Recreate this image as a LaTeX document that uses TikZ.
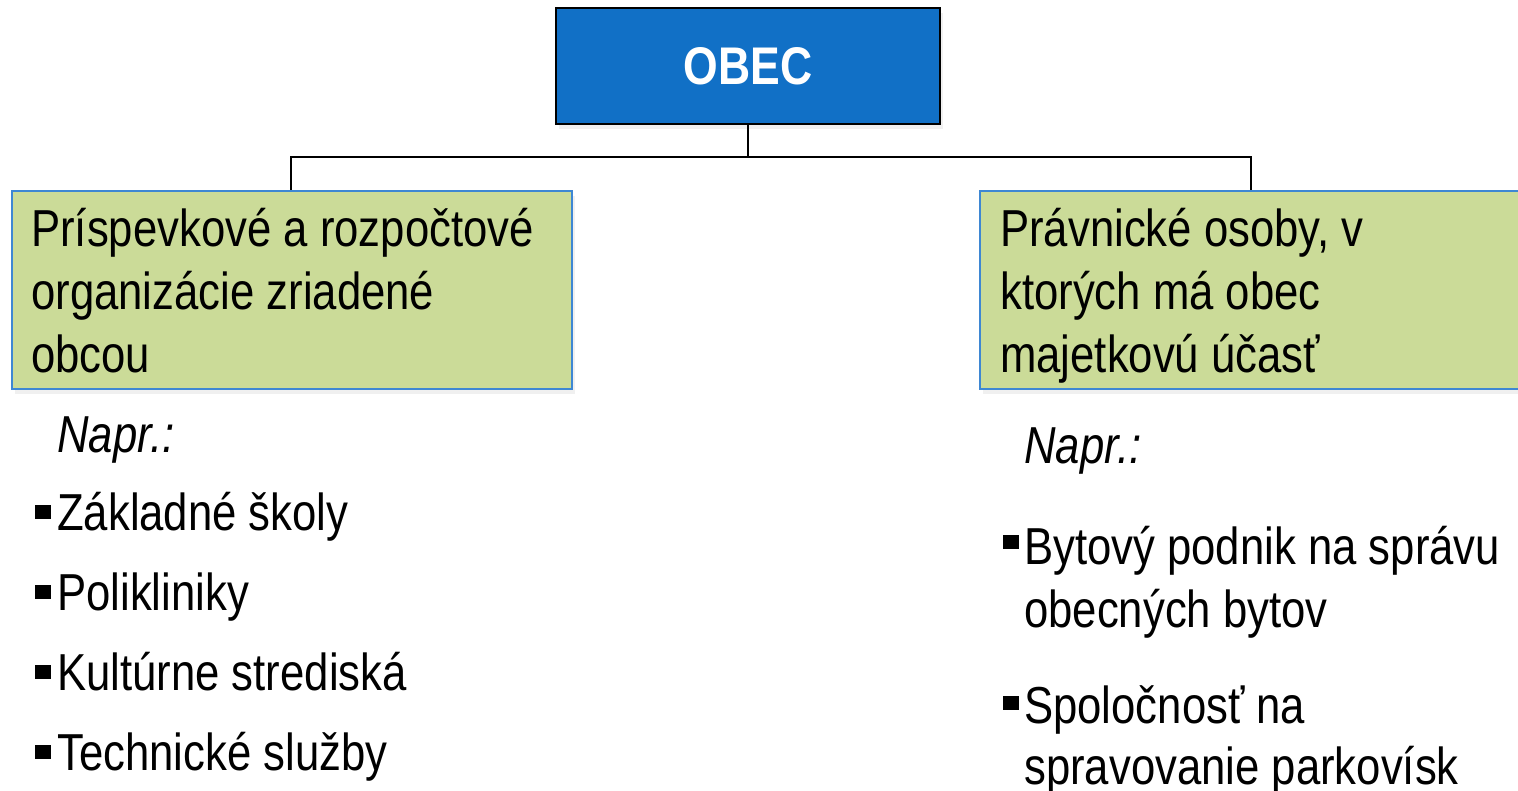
\documentclass[tikz,border=0pt]{standalone}
\usepackage{fontspec}
\setmainfont{Liberation Sans}[FakeStretch=0.84]
\usetikzlibrary{shadows}
\definecolor{obecblue}{HTML}{1170C6}
\definecolor{boxgreen}{HTML}{CBDB98}
\definecolor{boxedge}{HTML}{3E87D3}
\tikzset{
  topbox/.style={draw=black, line width=1.6pt, fill=obecblue, text=white,
    font=\fontsize{53}{60}\selectfont\bfseries, inner sep=0pt,
    drop shadow={opacity=0.12, shadow xshift=3pt, shadow yshift=-5pt}},
  greenbox/.style={draw=boxedge, line width=1.6pt, fill=boxgreen, inner sep=0pt,
    drop shadow={opacity=0.12, shadow xshift=3pt, shadow yshift=-5pt}},
  txt/.style={anchor=base west, inner sep=0pt, font=\fontsize{52}{60}\selectfont},
  itxt/.style={txt, font=\fontsize{52}{60}\selectfont\itshape},
  bul/.style={fill=black, inner sep=0pt, minimum width=16pt, minimum height=14pt},
  conn/.style={draw=black, line width=1.5pt}
}
\begin{document}
\begin{tikzpicture}[x=1pt, y=-1pt]
\useasboundingbox (0,0) rectangle (1518,791);
\clip (0,0) rectangle (1518,791);
% top box
\node[topbox, minimum width=384pt, minimum height=116pt] (obec) at (748,66) {OBEC};
% green boxes
\node[greenbox, anchor=north west, minimum width=560pt, minimum height=198pt] (left) at (11,190) {};
\node[greenbox, anchor=north west, minimum width=560pt, minimum height=198pt] (right) at (979,190) {};
% connectors
\coordinate (mid) at (748,157);
\draw[conn] (obec.south) -- (mid);
\draw[conn] (mid) -| (left.north -| 291,0);
\draw[conn] (mid) -| (right.north -| 1251,0);
% left box text
\node[txt] (l1) at (31,247) {Príspevkové a rozpočtové};
\node[txt] (l2) at (31,310) {organizácie zriadené};
\node[txt] (l3) at (31,373) {obcou};
% right box text
\node[txt] (r1) at (1000,247) {Právnické osoby, v};
\node[txt] (r2) at (1000,310) {ktorých má obec};
\node[txt] (r3) at (1000,373) {majetkovú účasť};
% left list
\node[itxt] (ln) at (57,452) {Napr.:};
\node[txt] (la) at (57,530) {Základné školy};
\node[txt] (lb) at (57,610) {Polikliniky};
\node[txt] (lc) at (57,690) {Kultúrne strediská};
\node[txt] (ld) at (57,770) {Technické služby};
\node[bul] (ba) at (43,512) {};
\node[bul] (bb) at (43,592) {};
\node[bul] (bc) at (43,672) {};
\node[bul] (bd) at (43,752) {};
% right list
\node[itxt] (rn) at (1024,463) {Napr.:};
\node[txt] (ra) at (1024,564) {Bytový podnik na správu};
\node[txt] (ra2) at (1024,627) {obecných bytov};
\node[txt] (rb) at (1024,723) {Spoločnosť na};
\node[txt] (rb2) at (1024,784) {spravovanie parkovísk};
\node[bul] (bra) at (1011,542) {};
\node[bul] (brb) at (1011,703) {};
\end{tikzpicture}
\end{document}
